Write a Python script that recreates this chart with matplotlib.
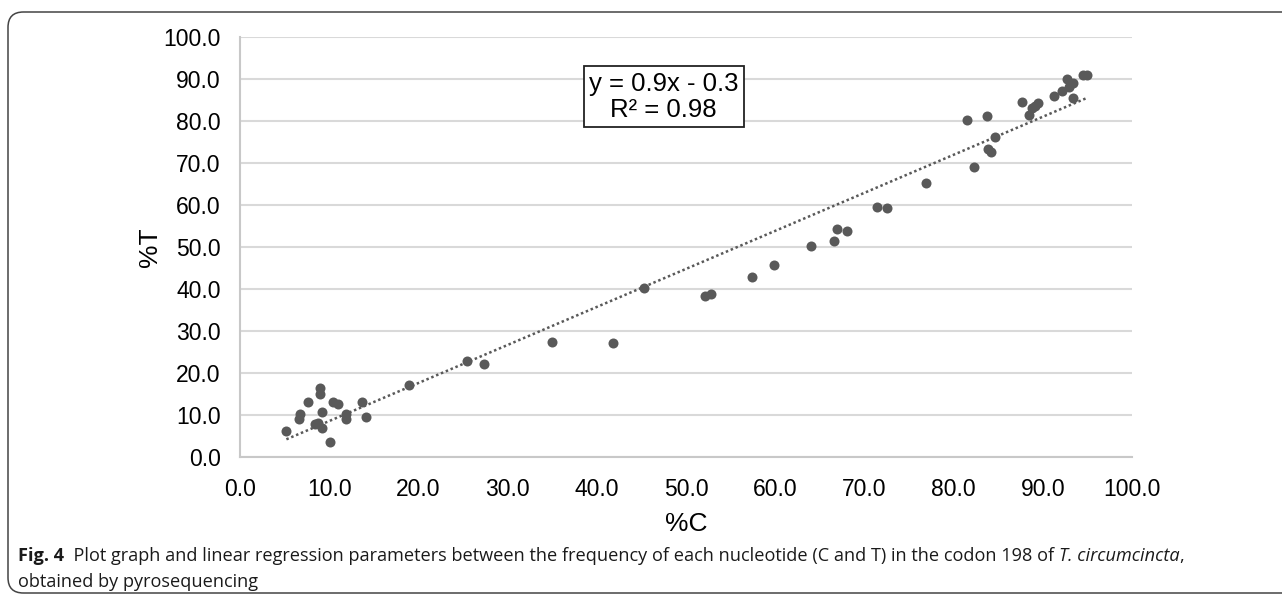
import numpy as np
import matplotlib
matplotlib.use("Agg")
import matplotlib.pyplot as plt
from matplotlib.patches import FancyBboxPatch

# %C (x) and %T (y)
pct_c = [5.2, 6.7, 6.6, 7.6, 9.0, 9.0, 9.2, 8.4, 8.7, 9.2, 10.1, 10.4, 11.0, 11.9,
         11.9, 13.7, 14.1, 18.9, 25.4, 27.3, 35.0, 41.8, 45.3, 52.1, 52.8, 57.4,
         59.9, 64.0, 66.6, 66.9, 68.0, 71.4, 72.5, 76.9, 81.5, 82.3, 83.7, 83.9,
         84.2, 84.6, 87.7, 88.5, 88.8, 89.1, 89.5, 91.3, 92.2, 92.7, 92.9, 93.4,
         93.4, 94.5, 95.0]
pct_t = [6.2, 10.2, 9.0, 13.1, 16.4, 15.0, 10.7, 7.9, 8.1, 6.9, 3.6, 13.1, 12.6, 10.2,
         9.0, 13.1, 9.6, 17.1, 22.9, 22.1, 27.4, 27.1, 40.2, 38.3, 38.8, 42.9,
         45.7, 50.2, 51.4, 54.3, 53.8, 59.5, 59.2, 65.2, 80.2, 69.0, 81.2, 73.3,
         72.6, 76.2, 84.5, 81.4, 83.1, 83.6, 84.3, 86.0, 87.1, 90.0, 88.1, 89.0,
         85.5, 91.0, 91.0]
ticks = np.arange(0, 101, 10)
equation = "y = 0.9x - 0.3\nR\u00b2 = 0.98"

plt.rcParams['font.family'] = ['Liberation Sans', 'DejaVu Sans']

W, H = 1282, 599
fig = plt.figure(figsize=(W / 100, H / 100), dpi=100)
ax = fig.add_axes([240 / W, 1 - 457 / H, (1132 - 240) / W, (457 - 37) / H])

dark = '#595959'
grid = '#d9d9d9'

ax.scatter(pct_c, pct_t, s=52, color=dark, zorder=3, linewidths=0)

# linear trendline
x = np.array(pct_c)
m, b = np.polyfit(x, pct_t, 1)
xs = np.array([x.min(), x.max()])
ax.plot(xs, m * xs + b, color=dark, lw=1.8, linestyle=(0, (1, 1.1)), zorder=2)

ax.set_xlim(0, 100)
ax.set_ylim(0, 100)
ax.set_xticks(ticks)
ax.set_yticks(ticks)
ax.set_xticklabels([f"{t:.1f}" for t in ticks])
ax.set_yticklabels([f"{t:.1f}" for t in ticks])
ax.tick_params(length=0, labelsize=16.5, colors='black', pad=14)
ax.tick_params(axis='x', pad=15)
ax.yaxis.grid(True, color=grid, lw=1.5)
ax.set_axisbelow(True)
for s in ['top', 'right']:
    ax.spines[s].set_visible(False)
for s in ['left', 'bottom']:
    ax.spines[s].set_color('#c8c8c8')
    ax.spines[s].set_linewidth(1.5)

ax.set_xlabel("%C", fontsize=19, labelpad=8)
ax.set_ylabel("%T", fontsize=19, labelpad=1)

ax.text(47.5, 85.8, equation, ha='center', va='center', fontsize=18.5,
        linespacing=1.12,
        bbox=dict(boxstyle='square,pad=0.2', fc='white', ec='#222222', lw=1.3))

# rounded frame around figure
frame = FancyBboxPatch((8 / W, 6 / H), 1.2, 1 - 18 / H,
                       boxstyle="round,pad=0,rounding_size=0.012",
                       transform=fig.transFigure, fc='none', ec='#444444',
                       lw=1.1, mutation_aspect=W / H, clip_on=False)
fig.patches.append(frame)

# caption
cap_font = ['Open Sans', 'DejaVu Sans']
cap_size = 13.1
fig.canvas.draw()
r = fig.canvas.get_renderer()
pieces = [("Fig. 4", 'bold', 'normal'),
          ("  Plot graph and linear regression parameters between the frequency of each "
           "nucleotide (C and T) in the codon 198 of ", 'normal', 'normal'),
          ("T. circumcincta", 'normal', 'italic'),
          (",", 'normal', 'normal')]
xpos = 18
for txt, wt, st in pieces:
    t = fig.text(xpos / W, 1 - 561 / H, txt, fontsize=cap_size, family=cap_font,
                 weight=wt, style=st, ha='left', va='baseline', color='#1a1a1a')
    xpos += t.get_window_extent(r).width
fig.text(18 / W, 1 - 587 / H, "obtained by pyrosequencing", fontsize=cap_size,
         family=cap_font, ha='left', va='baseline', color='#1a1a1a')

fig.savefig("out.png", dpi=100)
